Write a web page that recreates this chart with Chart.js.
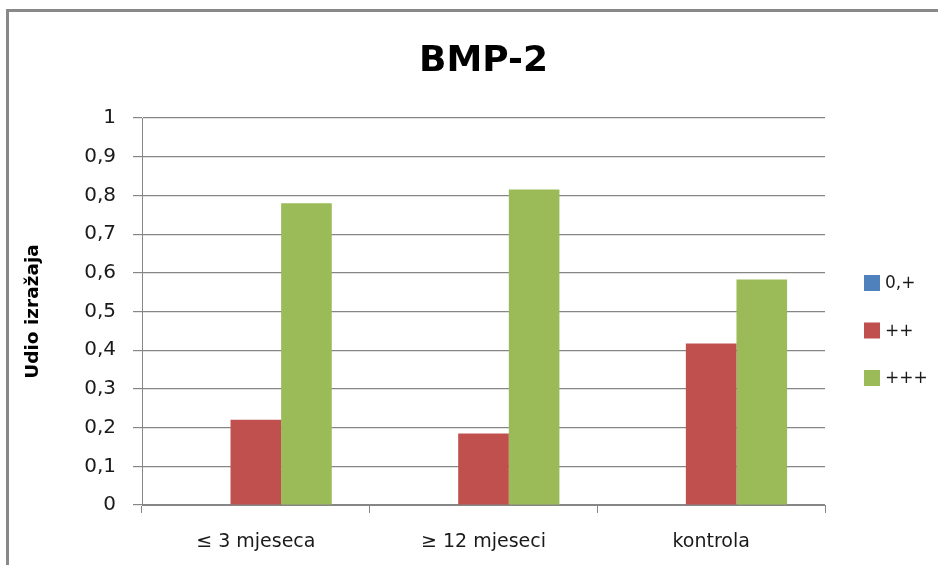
<!DOCTYPE html>
<html>
<head>
<meta charset="utf-8">
<script src="https://cdn.jsdelivr.net/npm/chart.js@4/dist/chart.umd.min.js"></script>
<style>
  html, body { margin: 0; padding: 0; background: #fff; }
  #wrap { position: relative; width: 938px; height: 565px; overflow: hidden; background: #fff; }
  #frame { position: absolute; left: 6px; top: 9px; width: 1000px; height: 700px; border: 3px solid #898989; box-sizing: border-box; pointer-events: none; }
  canvas { position: absolute; left: 0; top: 0; }
</style>
</head>
<body>
<div id="wrap">
  <canvas id="c" width="938" height="565"></canvas>
  <div id="frame"></div>
</div>
<script>
const categories = ['≤ 3 mjeseca', '≥ 12 mjeseci', 'kontrola'];
const seriesNames = ['0,+', '++', '+++'];
const series0 = [0, 0, 0];
const series1 = [0.22, 0.185, 0.417];
const series2 = [0.78, 0.815, 0.583];
const yTickLabels = ['0', '0,1', '0,2', '0,3', '0,4', '0,5', '0,6', '0,7', '0,8', '0,9', '1'];
const chartTitle = 'BMP-2';
const yTitle = 'Udio izražaja';

const colors = ['#4F81BD', '#C0504D', '#9BBB59'];
const FONT = "'DejaVu Sans', sans-serif";
const GRID = '#868686';

const legendPlugin = {
  id: 'sideLegend',
  afterDraw(chart) {
    const ctx = chart.ctx;
    ctx.save();
    ctx.font = '17px ' + FONT;
    ctx.textBaseline = 'middle';
    ctx.textAlign = 'left';
    chart.data.datasets.forEach((ds, i) => {
      const cy = 283 + i * 47.5;
      ctx.fillStyle = ds.backgroundColor;
      ctx.fillRect(864, cy - 8, 16, 16);
      ctx.fillStyle = '#1a1a1a';
      ctx.fillText(ds.label, 885, cy + 1);
    });
    ctx.restore();
  }
};

new Chart(document.getElementById('c'), {
  type: 'bar',
  data: {
    labels: categories,
    datasets: [
      { label: seriesNames[0], data: series0, backgroundColor: colors[0] },
      { label: seriesNames[1], data: series1, backgroundColor: colors[1] },
      { label: seriesNames[2], data: series2, backgroundColor: colors[2] }
    ]
  },
  options: {
    responsive: false,
    animation: false,
    layout: { padding: { left: 0, right: 113, top: 0, bottom: 0 } },
    datasets: { bar: { categoryPercentage: 0.667, barPercentage: 1.0, borderWidth: 0 } },
    plugins: {
      legend: { display: false },
      tooltip: { enabled: false },
      title: {
        display: true,
        text: chartTitle,
        fullSize: false,
        color: '#000',
        font: { family: FONT, size: 36, weight: 'bold' },
        padding: { top: 40, bottom: 34.8 }
      }
    },
    scales: {
      x: {
        grid: { offset: true, drawOnChartArea: false, drawTicks: true, tickLength: 8, color: GRID, lineWidth: 1 },
        border: { color: GRID, width: 1 },
        ticks: { color: '#1a1a1a', font: { family: FONT, size: 19 }, padding: 18, maxRotation: 0 },
        afterFit(scale) { scale.height = 60; }
      },
      y: {
        min: 0, max: 1,
        ticks: {
          stepSize: 0.1,
          color: '#1a1a1a',
          font: { family: FONT, size: 20 },
          padding: 17,
          callback: (v, i) => yTickLabels[i]
        },
        grid: { color: GRID, lineWidth: 1.2, tickLength: 9 },
        border: { color: GRID, width: 1 },
        title: {
          display: true,
          text: yTitle,
          color: '#000',
          font: { family: FONT, size: 18.5, weight: 'bold' },
          padding: { top: 22, bottom: 0 }
        },
        afterFit(scale) { scale.width = 142; }
      }
    }
  },
  plugins: [legendPlugin]
});
</script>
</body>
</html>
